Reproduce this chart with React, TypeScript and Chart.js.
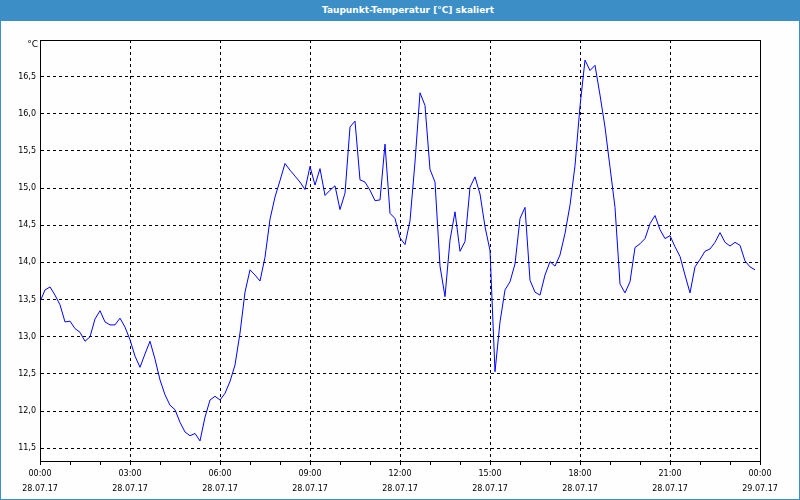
import React, { useEffect, useRef } from 'react';
import { Chart, registerables } from 'chart.js';

Chart.register(...registerables);

const chartTitle = 'Taupunkt-Temperatur [°C] skaliert';
const unitLabel = '°C';

// samples every 10 minutes starting 28.07.17 00:00
const sampleStepMinutes = 10;
const dewPoint = [
  13.47, 13.63, 13.67, 13.56, 13.43, 13.2, 13.21, 13.11, 13.06, 12.94, 13.0, 13.24,
  13.35, 13.2, 13.16, 13.16, 13.25, 13.13, 12.96, 12.74, 12.59, 12.77, 12.94, 12.7,
  12.42, 12.22, 12.08, 12.02, 11.85, 11.72, 11.67, 11.7, 11.6, 11.92, 12.15, 12.2,
  12.15, 12.24, 12.4, 12.62, 13.05, 13.6, 13.9, 13.83, 13.75, 14.07, 14.58, 14.88,
  15.1, 15.33, 15.24, 15.16, 15.08, 14.98, 15.29, 15.04, 15.26, 14.9, 14.97, 15.03,
  14.71, 14.93, 15.82, 15.9, 15.11, 15.08, 14.97, 14.83, 14.84, 15.59, 14.66, 14.59,
  14.33, 14.24, 14.56, 15.35, 16.28, 16.11, 15.25, 15.08, 13.95, 13.54, 14.3, 14.68,
  14.15, 14.28, 15.01, 15.15, 14.92, 14.48, 14.16, 12.53, 13.2, 13.63, 13.74, 13.98,
  14.59, 14.74, 13.76, 13.6, 13.56, 13.83, 14.01, 13.95, 14.1, 14.39, 14.77, 15.3,
  16.1, 16.72, 16.58, 16.65, 16.25, 15.82, 15.28, 14.74, 13.71, 13.59, 13.74, 14.2,
  14.25, 14.32, 14.52, 14.63, 14.44, 14.32, 14.36, 14.21, 14.08, 13.83, 13.59, 13.94,
  14.04, 14.15, 14.18, 14.27, 14.4, 14.27, 14.22, 14.27, 14.23, 14.02, 13.94, 13.9,
];

const yMin = 11.33;
const yMax = 16.99;
const yTicks = [11.5, 12, 12.5, 13, 13.5, 14, 14.5, 15, 15.5, 16, 16.5];

const xMinHours = 0;
const xMaxHours = 24;
const xHourTicks = [0, 1, 2, 3, 4, 5, 6, 7, 8, 9, 10, 11, 12, 13, 14, 15, 16, 17, 18, 19, 20, 21, 22, 23, 24];
const xLabelHours = [0, 3, 6, 9, 12, 15, 18, 21, 24];
const xLabelTimes = ['00:00', '03:00', '06:00', '09:00', '12:00', '15:00', '18:00', '21:00', '00:00'];
const xLabelDates = ['28.07.17', '28.07.17', '28.07.17', '28.07.17', '28.07.17', '28.07.17', '28.07.17', '28.07.17', '29.07.17'];

const FONT = 'DejaVu Sans';

const framePlugin = {
  id: 'frame',
  afterDraw(chart: any) {
    const { ctx, chartArea } = chart;
    ctx.save();
    ctx.strokeStyle = '#000';
    ctx.lineWidth = 1;
    ctx.setLineDash([]);
    const l = Math.round(chartArea.left) + 0.5;
    const t = Math.round(chartArea.top) + 0.5;
    const r = Math.round(chartArea.right) + 0.5;
    const b = Math.round(chartArea.bottom) + 0.5;
    ctx.strokeRect(l, t, r - l, b - t);
    ctx.fillStyle = '#000';
    ctx.font = `9px "${FONT}"`;
    ctx.textAlign = 'right';
    ctx.textBaseline = 'middle';
    ctx.fillText(unitLabel, chartArea.left - 2, chartArea.top + 5);
    ctx.restore();
  },
};

export default function App() {
  const canvasRef = useRef<HTMLCanvasElement | null>(null);

  useEffect(() => {
    document.body.style.margin = '0';
    const canvas = canvasRef.current;
    if (!canvas) return;
    const points = dewPoint.map((v, i) => ({ x: (i * sampleStepMinutes) / 60, y: v }));
    const chart = new Chart(canvas, {
      type: 'line',
      data: {
        datasets: [
          {
            data: points,
            borderColor: '#0000ff',
            borderWidth: 1,
            pointRadius: 0,
            tension: 0,
            fill: false,
          },
        ],
      },
      options: {
        animation: false,
        responsive: false,
        devicePixelRatio: 1,
        layout: { padding: { top: 19, right: 39, left: 0, bottom: 0 } },
        plugins: { legend: { display: false }, tooltip: { enabled: false }, title: { display: false } },
        scales: {
          x: {
            type: 'linear',
            min: xMinHours,
            max: xMaxHours,
            afterBuildTicks: (axis: any) => {
              axis.ticks = xHourTicks.map((v) => ({ value: v }));
            },
            afterFit: (axis: any) => {
              axis.height = 38;
            },
            grid: {
              color: (ctx: any) =>
                ctx.tick && xLabelHours.includes(ctx.tick.value) ? '#000' : 'rgba(0,0,0,0)',
              lineWidth: 1,
              drawTicks: true,
              tickLength: 4,
              tickColor: '#000',
              tickWidth: 1,
              tickBorderDash: [],
            },
            border: { display: true, color: '#000', width: 1, dash: [3, 3] },
            ticks: {
              autoSkip: false,
              maxRotation: 0,
              minRotation: 0,
              padding: 1,
              color: '#000',
              font: { family: FONT, size: 8, lineHeight: '15.5px' as any },
              callback: (value: any) => {
                const idx = xLabelHours.indexOf(Number(value));
                return idx >= 0 ? [xLabelTimes[idx], xLabelDates[idx]] : '';
              },
            },
          },
          y: {
            type: 'linear',
            min: yMin,
            max: yMax,
            afterBuildTicks: (axis: any) => {
              axis.ticks = yTicks.map((v) => ({ value: v }));
            },
            afterFit: (axis: any) => {
              axis.width = 39;
            },
            grid: {
              color: '#000',
              lineWidth: 1,
              drawTicks: false,
            },
            border: { display: true, color: '#000', width: 1, dash: [3, 3] },
            ticks: {
              autoSkip: false,
              padding: 4,
              color: '#000',
              font: { family: FONT, size: 8 },
              callback: (value: any) => Number(value).toFixed(1).replace('.', ','),
            },
          },
        },
      },
      plugins: [framePlugin],
    });
    return () => chart.destroy();
  }, []);

  return (
    <div
      style={{
        position: 'relative',
        width: 800,
        height: 500,
        background: '#3c8fc6',
        overflow: 'hidden',
      }}
    >
      <div
        style={{
          height: 21,
          lineHeight: '21px',
          textAlign: 'center',
          color: '#ffffff',
          fontFamily: FONT,
          fontSize: 9,
          fontWeight: 'bold',
          paddingLeft: 16,
          boxSizing: 'border-box',
        }}
      >
        {chartTitle}
      </div>
      <div
        style={{
          position: 'absolute',
          left: 1,
          top: 21,
          width: 798,
          height: 478,
          background: '#fdfefd',
        }}
      >
        <canvas ref={canvasRef} width={798} height={478} style={{ display: 'block' }} />
      </div>
    </div>
  );
}
